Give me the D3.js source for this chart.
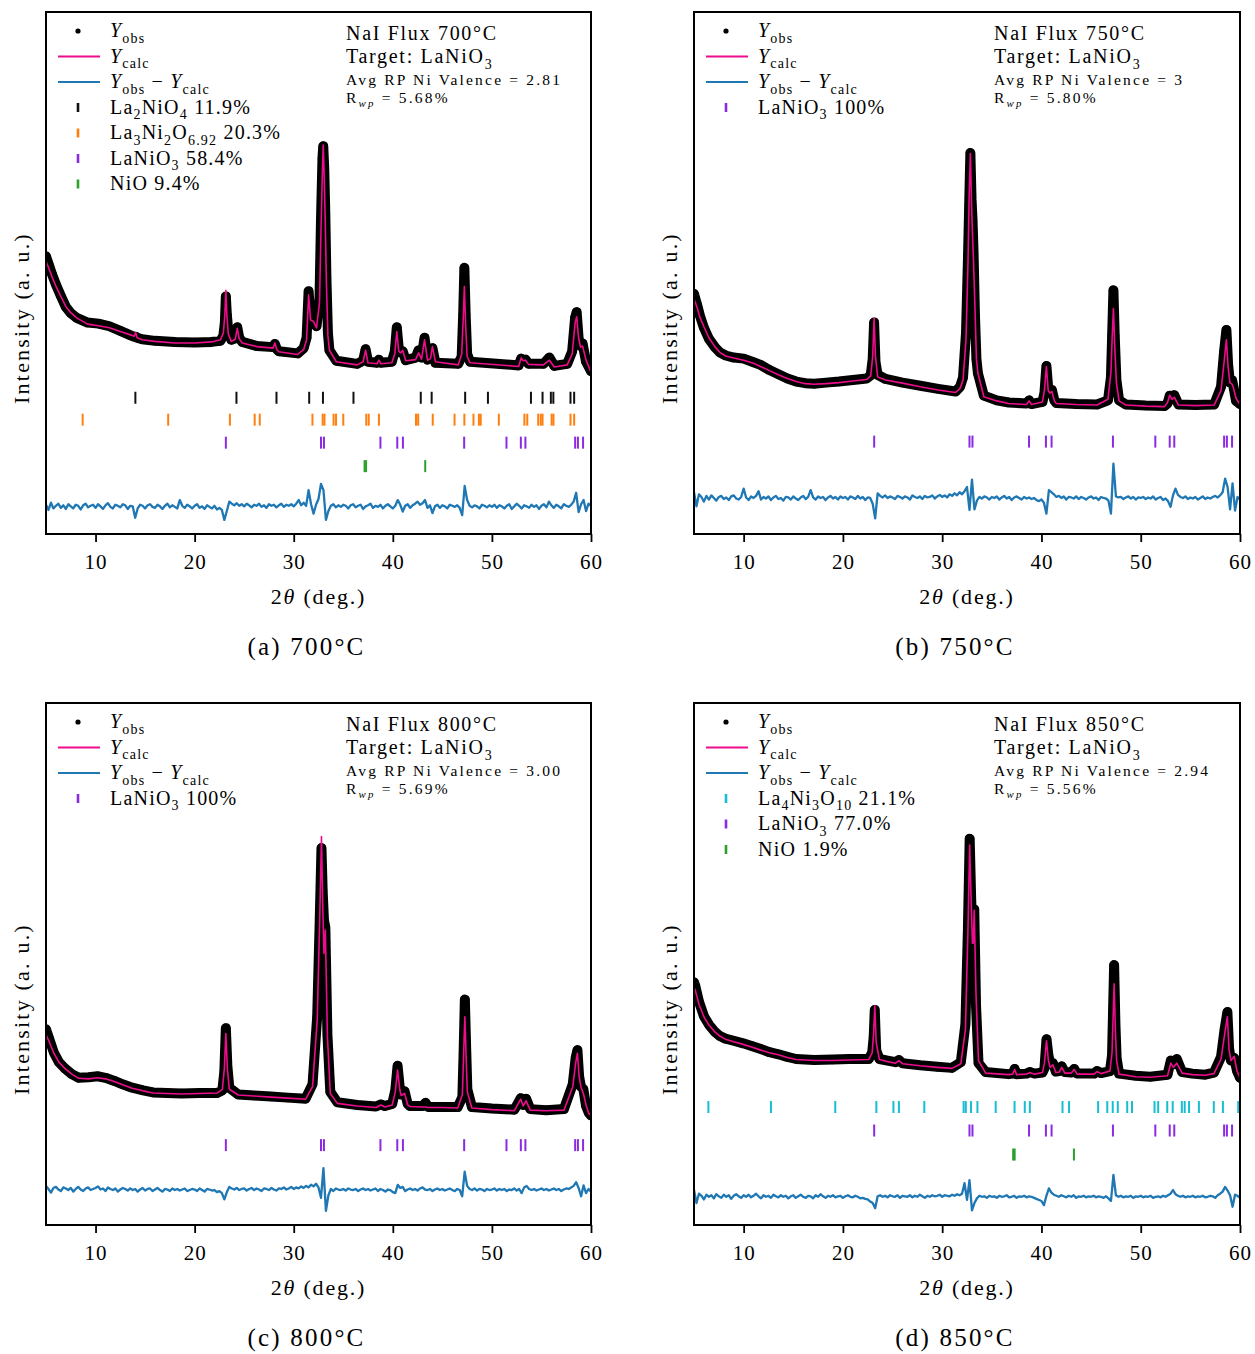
<!DOCTYPE html>
<html>
<head>
<meta charset="utf-8">
<script src="https://cdn.jsdelivr.net/npm/d3@7"></script>
<style>
  body { margin: 0; background: #fff; }
  svg { font-family: "Liberation Serif", "DejaVu Serif", serif; }
</style>
</head>
<body>
<div id="chart"></div>
<script>
// axis setup shared by all four panels
const X_DOMAIN = [5, 60];
const X_TICKS = [10, 20, 30, 40, 50, 60];
const Y_DOMAIN = [0, 100];

// difference curves are sampled on the instrument grid
const DIFF_START = 5;
const DIFF_STEP = 0.25;

// [2theta, Ycalc, Yobs]  (a.u.)
const patternA = [
  [5.0, 52.3, 53.2], [5.3, 50.8, 51.5], [5.6, 49.3, 49.8], [6.0, 47.5, 47.8], [6.5, 45.5, 45.6],
  [7.0, 43.6, 43.5], [7.5, 42.4, 42.3], [8.1, 41.4, 41.4], [9.2, 40.2, 40.5], [10.3, 39.9, 40.3],
  [11.4, 39.5, 39.8], [12.5, 38.8, 38.9], [13.6, 38.1, 38.0], [13.9, 37.9, 37.8], [14.05, 38.6, 37.8],
  [14.2, 37.6, 37.6], [14.7, 37.2, 37.3], [16.0, 36.9, 37.0], [18.0, 36.6, 36.8], [20.0, 36.6, 36.7],
  [21.7, 36.8, 36.8], [22.6, 37.2, 37.0], [22.9, 38.5, 38.0], [23.05, 42.0, 40.5], [23.15, 46.7, 45.5],
  [23.25, 42.0, 42.0], [23.4, 38.3, 38.8], [23.7, 36.9, 37.2], [24.1, 37.3, 37.5], [24.3, 39.4, 39.6],
  [24.5, 37.4, 37.6], [24.8, 36.6, 36.8], [26.3, 35.9, 36.0], [27.9, 35.6, 35.8], [28.1, 36.6, 36.4],
  [28.3, 35.3, 35.4], [28.5, 34.9, 35.0], [30.4, 34.4, 34.6], [31.0, 35.3, 35.6], [31.3, 37.2, 37.6],
  [31.5, 45.8, 46.5], [31.7, 41.0, 41.2], [32.0, 40.7, 40.5], [32.3, 39.5, 39.8], [32.6, 44.3, 45.0],
  [32.75, 58.0, 60.0], [32.9, 70.0, 72.0], [32.98, 74.5, 74.3], [33.08, 68.0, 70.0], [33.18, 60.0, 62.0],
  [33.3, 48.0, 49.0], [33.45, 38.0, 38.5], [33.6, 35.2, 35.2], [34.3, 33.0, 33.2], [36.4, 32.4, 32.6],
  [37.0, 33.0, 33.2], [37.25, 35.2, 35.4], [37.5, 32.8, 33.0], [38.4, 32.6, 32.8], [38.6, 33.3, 33.4],
  [38.8, 32.6, 32.8], [39.9, 32.8, 33.0], [40.2, 34.5, 35.0], [40.4, 38.8, 39.6], [40.6, 35.0, 35.5],
  [40.8, 34.7, 34.8], [41.0, 35.2, 35.0], [41.3, 33.2, 33.3], [42.3, 33.4, 33.8], [42.6, 34.7, 35.2],
  [42.9, 33.5, 33.8], [43.2, 37.2, 37.6], [43.5, 33.3, 33.4], [43.8, 33.6, 33.8], [44.0, 35.9, 35.6],
  [44.3, 33.0, 32.8], [46.6, 32.4, 32.6], [46.95, 34.5, 34.0], [47.1, 41.0, 42.0], [47.22, 47.4, 51.0],
  [47.35, 40.0, 42.0], [47.5, 34.0, 34.5], [47.8, 32.8, 33.0], [52.7, 32.1, 32.3], [52.95, 33.7, 33.6],
  [53.15, 33.2, 33.2], [53.4, 33.3, 33.4], [53.7, 32.5, 32.6], [55.2, 32.4, 32.6], [55.8, 33.3, 33.8],
  [56.3, 32.0, 32.2], [57.6, 32.4, 32.6], [58.1, 34.5, 35.0], [58.4, 40.5, 41.5], [58.55, 41.6, 42.5],
  [58.75, 37.5, 37.5], [58.95, 35.8, 36.0], [59.15, 36.0, 36.5], [59.5, 33.3, 33.0], [60.0, 31.0, 31.2]
];

const patternB = [
  [5.0, 45.0, 46.0], [5.3, 43.5, 44.0], [5.6, 41.5, 41.8], [6.0, 39.7, 39.5], [6.5, 37.6, 37.4],
  [7.1, 35.9, 35.8], [7.6, 34.8, 34.8], [8.2, 34.1, 34.2], [9.0, 33.7, 33.8], [10.0, 33.3, 33.6],
  [11.0, 32.7, 32.9], [11.7, 32.1, 32.4], [12.6, 31.3, 31.4], [13.5, 30.5, 30.6], [14.4, 29.8, 29.8],
  [15.3, 29.2, 29.2], [16.2, 28.8, 28.9], [17.1, 28.7, 28.8], [18.3, 28.8, 29.0], [19.6, 29.0, 29.2],
  [21.0, 29.3, 29.5], [22.4, 29.6, 29.8], [22.8, 30.3, 30.4], [23.0, 34.0, 33.5], [23.14, 41.3, 40.5],
  [23.28, 34.0, 33.0], [23.5, 30.1, 30.5], [24.3, 29.5, 29.7], [26.0, 28.9, 29.0], [27.8, 28.2, 28.4],
  [29.6, 27.6, 27.8], [31.35, 27.1, 27.3], [31.8, 27.9, 28.2], [32.1, 29.5, 30.0], [32.4, 37.2, 38.5],
  [32.6, 52.0, 53.0], [32.72, 65.0, 63.0], [32.84, 72.9, 73.0], [32.96, 63.0, 64.0], [33.06, 57.0, 60.0],
  [33.16, 52.0, 54.0], [33.3, 43.5, 42.0], [33.45, 33.5, 33.5], [33.6, 30.8, 30.8], [34.2, 26.3, 26.5],
  [35.5, 25.5, 25.6], [36.7, 25.0, 25.2], [38.5, 24.8, 25.0], [38.76, 25.5, 25.6], [39.0, 24.8, 24.9],
  [40.1, 25.3, 25.3], [40.3, 27.5, 27.0], [40.5, 32.1, 32.2], [40.68, 27.5, 28.0], [40.85, 27.0, 27.5],
  [41.05, 27.3, 27.6], [41.3, 25.5, 25.6], [41.5, 25.0, 25.1], [43.5, 24.8, 24.9], [45.6, 24.7, 24.8],
  [46.7, 25.8, 25.6], [47.0, 31.0, 30.0], [47.12, 37.5, 38.0], [47.25, 43.2, 46.7], [47.38, 36.0, 38.0],
  [47.55, 29.0, 29.5], [47.82, 25.5, 25.6], [48.5, 24.7, 24.8], [50.5, 24.5, 24.6], [52.4, 24.4, 24.5],
  [52.7, 25.2, 25.0], [52.92, 26.6, 26.5], [53.15, 25.8, 25.8], [53.38, 26.2, 26.6], [53.8, 24.7, 24.8],
  [55.5, 24.6, 24.7], [57.4, 24.7, 24.8], [58.09, 27.5, 28.2], [58.4, 33.0, 35.0], [58.63, 37.2, 39.1],
  [58.8, 32.0, 32.5], [58.98, 29.0, 29.0], [59.2, 28.7, 29.5], [59.34, 28.0, 28.2], [59.6, 26.0, 25.5],
  [60.0, 24.8, 24.9]
];

const patternC = [
  [5.0, 36.5, 37.5], [5.3, 35.2, 35.8], [5.8, 32.9, 33.0], [6.3, 31.2, 31.2], [6.9, 30.0, 30.0],
  [7.6, 28.9, 28.9], [8.3, 28.1, 28.2], [9.3, 28.0, 28.3], [10.2, 28.2, 28.5], [11.0, 28.0, 28.2],
  [11.9, 27.5, 27.6], [12.8, 26.8, 26.9], [13.7, 26.2, 26.3], [14.8, 25.7, 25.8], [15.8, 25.3, 25.4],
  [17.2, 25.2, 25.3], [18.7, 25.1, 25.2], [20.5, 25.2, 25.3], [22.3, 25.3, 25.3], [22.8, 26.0, 25.8],
  [23.0, 30.0, 29.5], [23.15, 36.7, 37.7], [23.3, 30.0, 30.5], [23.5, 26.0, 26.3], [24.4, 24.9, 25.0],
  [26.0, 24.7, 24.8], [27.7, 24.5, 24.6], [29.4, 24.3, 24.4], [31.2, 24.1, 24.2], [31.9, 26.5, 27.0],
  [32.37, 39.3, 40.0], [32.62, 58.4, 58.0], [32.8, 74.4, 72.2], [32.92, 62.0, 64.0], [33.05, 52.0, 58.4],
  [33.19, 56.5, 57.0], [33.4, 36.1, 36.5], [33.69, 25.2, 25.5], [34.4, 23.3, 23.5], [36.4, 22.8, 23.0],
  [38.3, 22.5, 22.7], [38.8, 23.0, 23.1], [39.2, 22.6, 22.8], [39.94, 23.0, 23.2], [40.25, 25.5, 25.8],
  [40.48, 29.7, 30.5], [40.7, 26.0, 26.3], [40.84, 24.8, 25.0], [41.19, 25.2, 25.6], [41.5, 23.0, 23.2],
  [41.73, 22.7, 22.8], [43.0, 22.6, 22.8], [43.3, 22.6, 23.4], [43.6, 22.5, 22.6], [45.0, 22.5, 22.6],
  [46.55, 22.4, 22.6], [47.02, 25.0, 24.5], [47.15, 33.0, 33.5], [47.27, 39.9, 43.2], [47.4, 32.0, 34.0],
  [47.52, 25.5, 26.0], [47.98, 22.4, 22.6], [50.0, 22.1, 22.3], [52.27, 21.9, 22.1], [52.91, 24.1, 24.3],
  [53.16, 22.8, 23.0], [53.45, 23.8, 24.2], [53.87, 22.0, 22.2], [55.5, 21.9, 22.0], [57.27, 22.0, 22.2],
  [58.16, 26.5, 27.0], [58.45, 31.0, 32.0], [58.63, 32.9, 33.5], [58.8, 28.5, 28.5], [58.98, 26.5, 26.5],
  [59.23, 25.2, 26.0], [59.5, 23.0, 22.8], [59.77, 21.4, 21.5], [60.0, 21.0, 21.0]
];

const patternD = [
  [5.0, 45.5, 46.5], [5.13, 45.0, 45.8], [5.5, 42.3, 42.8], [6.0, 39.9, 40.0], [6.5, 38.3, 38.4],
  [7.1, 37.0, 37.0], [7.6, 36.2, 36.2], [8.16, 35.6, 35.7], [9.0, 35.1, 35.3], [9.95, 34.6, 34.8],
  [10.8, 34.1, 34.3], [11.73, 33.5, 33.7], [12.6, 33.0, 33.1], [13.5, 32.6, 32.7], [14.4, 32.1, 32.2],
  [15.3, 31.7, 31.8], [17.1, 31.5, 31.6], [19.0, 31.5, 31.7], [20.65, 31.6, 31.8], [22.6, 31.7, 31.8],
  [22.95, 33.0, 33.0], [23.1, 37.0, 36.0], [23.21, 42.0, 41.2], [23.35, 35.0, 33.5], [23.68, 31.7, 31.8],
  [24.5, 31.3, 31.5], [25.3, 31.0, 31.2], [25.64, 31.5, 31.6], [26.0, 30.9, 31.0], [27.78, 30.5, 30.6],
  [29.5, 30.2, 30.3], [30.99, 30.0, 30.1], [31.88, 30.9, 31.2], [32.34, 37.4, 38.5], [32.59, 56.0, 56.5],
  [32.77, 72.8, 74.0], [32.92, 62.0, 62.5], [33.05, 54.0, 55.0], [33.13, 54.0, 56.0], [33.23, 60.3, 60.5],
  [33.41, 44.0, 42.0], [33.66, 31.5, 31.0], [34.38, 29.1, 29.3], [36.69, 28.8, 28.9], [37.1, 28.9, 29.0],
  [37.3, 29.8, 29.9], [37.5, 28.8, 28.9], [38.5, 28.9, 29.0], [38.83, 29.2, 29.3], [39.3, 28.9, 29.0],
  [40.1, 29.2, 29.2], [40.3, 31.0, 30.0], [40.51, 35.3, 35.6], [40.7, 31.5, 32.5], [40.87, 30.2, 31.0],
  [41.15, 30.7, 31.0], [41.45, 29.2, 29.4], [41.8, 29.3, 29.5], [42.04, 30.2, 30.4], [42.35, 29.1, 29.3],
  [43.0, 29.1, 29.2], [43.3, 29.8, 29.9], [43.6, 28.9, 29.0], [45.3, 28.9, 29.0], [45.6, 29.4, 29.5],
  [46.0, 29.0, 29.1], [46.9, 29.5, 29.5], [47.11, 33.0, 32.5], [47.32, 46.2, 49.8], [47.45, 37.0, 38.5],
  [47.57, 31.5, 32.0], [47.82, 28.9, 29.0], [49.5, 28.4, 28.6], [50.96, 28.3, 28.4], [52.7, 28.6, 28.8],
  [53.03, 31.0, 31.5], [53.3, 30.2, 30.8], [53.63, 31.0, 31.8], [54.17, 29.1, 29.3], [55.2, 28.8, 29.0],
  [56.5, 28.7, 28.8], [57.38, 29.0, 29.2], [58.09, 31.8, 32.2], [58.45, 36.5, 37.5], [58.73, 39.9, 40.8],
  [58.9, 33.5, 33.8], [59.09, 31.5, 31.5], [59.41, 32.3, 32.0], [59.7, 29.5, 29.5], [60.0, 28.1, 28.2]
];

// Yobs - Ycalc, one value per grid step from 5 to 60 deg
const diffA = [
  0.4,-0.6,0.8,-0.3,0.2,0.6,-0.2,0.3,-0.4,0.5,0.1,-0.3,0.4,0.2,-0.5,0.3,0.6,-0.1,0.2,0.4,
  -0.2,0.5,0.1,-0.4,0.3,0.7,0.0,-0.3,0.4,0.2,-0.1,0.5,0.3,-0.4,0.2,0.1,-2.1,-0.3,0.4,0.2,
  -0.3,0.3,0.5,0.0,-0.2,0.4,0.1,-0.4,0.2,0.6,-0.1,0.3,0.0,-0.3,1.3,0.2,-0.2,0.4,0.1,-0.3,
  0.2,0.5,-0.2,0.1,-0.4,0.3,0.0,-0.3,0.2,-0.5,-0.2,-0.6,-2.5,-0.8,1.0,0.6,0.3,0.7,0.2,0.5,
  0.1,0.6,0.3,-0.1,0.4,0.2,0.6,0.0,0.3,-0.2,0.5,0.2,0.4,-0.1,0.3,0.6,0.0,0.4,0.2,0.5,
  0.1,0.6,1.3,0.3,0.8,0.2,3.2,0.5,-1.3,0.4,1.5,4.4,3.2,-2.5,-0.8,0.2,0.5,-0.1,0.3,0.0,
  0.4,0.2,-0.3,0.3,0.5,-0.1,0.2,0.4,-0.4,0.1,0.3,0.6,-0.2,0.2,0.0,0.4,-0.3,0.2,0.5,0.1,
  -0.3,0.2,1.3,0.4,-0.9,0.2,0.5,-0.2,0.3,0.6,1.0,0.4,0.7,1.3,-0.2,0.3,-1.2,0.1,0.4,-0.2,
  0.3,0.1,-0.3,0.4,0.2,0.0,0.3,-0.2,-1.6,4.0,1.3,0.2,-0.1,0.3,0.1,-0.3,0.4,0.2,-0.1,0.3,
  0.0,0.4,-0.2,0.3,0.1,-0.3,0.2,0.5,-0.4,0.1,0.6,0.2,-0.3,0.3,0.1,-0.2,0.4,0.0,0.3,-0.4,
  0.2,0.5,-0.1,1.0,0.3,-0.2,0.4,0.1,-0.3,0.5,0.2,0.0,0.4,1.0,2.7,-1.0,0.5,1.3,-0.8,0.6,
  0.2
];

const diffB = [
  1.2,-1.5,0.8,0.3,-0.6,0.5,-0.2,0.6,0.1,-0.4,0.3,0.5,-0.1,0.2,-0.3,0.4,0.6,0.0,-0.2,0.3,
  1.9,0.2,-0.3,0.4,0.1,0.5,1.4,-0.2,0.3,0.0,0.4,-0.3,0.2,0.5,-0.1,0.1,-0.4,0.3,0.2,-0.2,
  0.4,0.0,-0.3,0.2,0.5,-0.1,0.3,1.6,0.2,-0.2,0.4,0.1,0.3,-0.3,0.2,0.5,0.0,0.3,-0.2,0.4,
  0.1,0.3,-0.2,0.4,0.2,-0.1,0.5,0.0,0.3,-0.3,0.2,0.1,-1.0,-3.8,1.0,0.5,0.2,0.6,0.1,0.4,
  0.2,-0.1,0.5,0.3,0.0,0.4,0.2,-0.2,0.6,0.3,0.1,0.4,-0.1,0.5,0.2,0.3,0.6,0.0,0.4,0.7,
  0.3,0.6,0.2,0.8,0.5,1.0,0.6,1.2,0.8,1.4,2.2,-2.2,3.6,-2.1,-0.4,0.3,0.0,0.4,0.2,-0.2,
  0.3,0.1,0.4,-0.2,0.2,0.5,0.0,0.3,-0.3,0.2,0.4,0.1,-0.2,0.3,0.0,0.2,-0.1,0.1,-0.3,-0.5,
  -0.2,-0.8,-2.9,1.6,1.2,0.8,0.3,0.5,0.1,0.4,-0.2,0.3,0.2,0.0,0.4,-0.1,0.3,0.1,-0.2,0.2,
  0.4,0.0,0.2,-0.3,0.3,0.1,0.0,-0.4,-2.9,6.7,0.4,0.2,0.3,-0.1,0.2,0.4,0.0,0.3,-0.2,0.2,
  0.1,0.3,-0.1,0.2,0.0,0.4,-0.2,0.1,0.3,-0.3,0.0,-0.5,-1.6,0.6,1.9,0.7,0.3,0.1,0.4,-0.1,
  0.2,0.0,0.3,-0.2,0.1,0.4,-0.1,0.2,0.0,0.3,0.5,0.2,0.6,1.2,3.8,2.2,-2.1,2.9,-2.3,0.3,
  -0.2
];

const diffC = [
  0.8,0.2,-0.5,0.4,0.6,0.1,-0.2,0.5,0.3,0.0,0.4,-0.3,0.2,0.6,0.1,-0.2,0.3,0.5,0.0,0.2,
  0.4,0.7,0.1,0.3,-0.2,0.5,0.2,0.0,0.3,-0.3,0.1,0.4,0.2,-0.1,0.3,0.0,0.2,-0.3,0.1,0.4,
  -0.1,0.2,0.3,-0.2,0.1,0.4,0.0,-0.3,0.2,0.1,-0.2,0.3,0.0,0.2,-0.1,0.1,0.3,-0.2,0.0,0.2,
  0.1,-0.2,0.3,0.0,-0.3,0.2,0.1,-0.1,0.0,-0.4,-0.2,-0.6,-1.8,-0.4,0.6,0.3,0.1,0.4,0.0,0.2,
  0.3,-0.1,0.2,0.4,0.0,0.3,0.1,-0.2,0.3,0.2,0.0,0.4,0.1,-0.1,0.3,0.2,0.5,0.1,0.3,0.6,
  0.2,0.5,0.3,0.7,0.4,0.8,0.5,1.0,0.7,1.2,0.5,-1.5,4.2,-4.0,-1.0,0.2,-0.2,0.3,0.1,0.0,
  0.2,-0.1,0.3,0.1,0.0,0.2,-0.2,0.1,0.3,0.0,0.2,-0.1,0.1,0.3,-0.2,0.2,0.0,-0.3,0.1,0.0,
  -0.4,-0.6,1.0,0.4,0.6,-0.2,0.1,0.3,0.0,0.2,-0.1,0.3,0.5,0.1,0.0,0.2,-0.2,0.1,0.3,0.0,
  0.2,-0.1,0.1,0.3,0.0,-0.2,0.2,0.0,-1.2,3.5,0.8,0.2,0.0,0.3,-0.1,0.2,0.1,-0.2,0.2,0.0,
  0.1,0.3,-0.1,0.2,0.0,0.2,-0.2,0.1,0.0,0.3,-0.1,0.2,-0.6,0.5,0.8,0.2,0.0,0.2,-0.1,0.1,
  0.3,0.0,0.2,-0.1,0.1,0.3,0.0,0.2,-0.2,0.1,0.3,0.2,0.5,0.8,1.5,0.4,-1.2,0.9,-0.6,0.2,
  -0.3
];

const diffD = [
  1.3,-1.2,0.6,0.2,-0.5,0.4,0.0,0.3,-0.3,0.5,0.1,-0.2,0.4,0.0,0.3,-0.4,0.2,0.5,0.1,-0.2,
  0.3,0.0,0.4,-0.1,0.2,0.6,0.1,-0.3,0.3,0.0,0.2,-0.2,0.4,0.1,-0.1,0.3,0.0,0.2,-0.3,0.1,
  0.3,-0.2,0.1,0.4,0.0,-0.2,0.2,0.1,-0.3,0.3,0.0,0.5,0.1,-0.2,0.2,0.0,0.3,-0.1,0.1,0.2,
  -0.2,0.1,0.3,0.0,-0.1,0.2,0.0,-0.3,-0.2,-0.4,-0.5,-0.9,-1.2,-2.2,0.1,0.3,0.0,0.2,-0.1,0.3,
  0.1,0.0,0.3,-0.2,0.2,0.1,0.0,0.3,-0.1,0.2,0.0,0.4,0.1,-0.2,0.2,0.0,0.3,0.1,0.2,0.4,
  0.0,0.3,0.2,0.1,0.4,0.2,0.5,0.3,0.6,2.6,-0.6,3.2,-2.6,-1.2,-0.3,0.2,0.0,0.1,-0.2,0.2,
  0.0,0.1,-0.2,0.2,0.0,0.1,0.3,-0.1,0.0,0.2,-0.2,0.1,0.0,0.2,-0.1,0.1,0.0,-0.2,-0.4,-0.6,
  -0.8,-1.6,0.2,1.6,0.8,0.4,0.2,0.0,0.3,0.1,-0.1,0.2,0.0,0.3,-0.2,0.1,0.0,0.2,-0.1,0.1,
  0.0,0.2,-0.1,0.1,0.0,-0.2,0.1,-0.3,-0.8,4.2,0.3,0.0,0.2,-0.1,0.1,0.0,0.2,-0.2,0.1,0.0,
  0.2,-0.1,0.1,0.0,0.2,-0.2,0.0,0.1,-0.1,0.2,0.0,0.3,0.6,1.3,0.5,0.2,0.0,0.2,-0.1,0.1,
  0.0,0.2,-0.1,0.1,0.0,0.2,-0.1,0.0,0.2,0.1,-0.2,0.3,0.6,1.0,1.9,1.2,0.3,-1.9,0.4,0.2,
  -0.2
];

// reflection positions (2theta) for each phase
const ticksLa2NiO4 = [14.02, 24.22, 28.26, 31.56, 32.95, 36.03, 42.82, 43.92, 47.3, 49.6,
  53.94, 55.11, 55.95, 56.2, 57.93, 58.3];
const ticksLa3Ni2O7 = [8.7, 17.33, 23.56, 26.06, 26.57, 31.89, 32.92, 33.1, 34.02, 34.27, 35.0,
  37.32, 37.57, 38.6, 42.34, 42.56, 44.03, 46.23, 47.22, 48.14, 48.69, 48.87, 50.7, 53.28,
  53.57, 54.67, 54.93, 55.11, 56.03, 56.21, 57.93, 58.3];
const ticksLaNiO3 = [23.15, 32.75, 33.05, 38.75, 40.45, 41.02, 47.2, 51.47, 52.92, 53.38,
  58.4, 58.68, 59.2];
const ticksNiO = [37.15, 37.3, 43.27];
const ticksLa4Ni3O10 = [6.45, 12.75, 19.23, 23.37, 25.09, 25.64, 28.2, 32.16, 32.38, 32.9, 33.55,
  35.39, 37.29, 38.32, 38.83, 42.12, 42.78, 45.71, 46.63, 47.18, 47.69, 48.64, 49.12, 51.39,
  51.76, 52.67, 53.22, 54.14, 54.43, 54.87, 55.86, 57.36, 58.28, 59.82];

const captions = ["(a) 700°C", "(b) 750°C", "(c) 800°C", "(d) 850°C"];
const fluxLabels = ["NaI Flux 700°C", "NaI Flux 750°C", "NaI Flux 800°C", "NaI Flux 850°C"];
const valences = ["2.81", "3", "3.00", "2.94"];
const rwps = ["5.68%", "5.80%", "5.69%", "5.56%"];

const COLORS = {
  calc: "#ec0c8c",
  diff: "#1f77b4",
  La2NiO4: "#111111",
  La3Ni2O7: "#ff7f0e",
  LaNiO3: "#8a2be2",
  NiO: "#2ca02c",
  La4Ni3O10: "#17becf"
};

const panels = [
  { box: [46, 591, 12, 534], pattern: patternA, diff: diffA, diffOffset: 5.2,
    phases: [
      { label: "La_{2}NiO_{4} 11.9%", color: COLORS.La2NiO4, ticks: ticksLa2NiO4, level: 26.1 },
      { label: "La_{3}Ni_{2}O_{6.92} 20.3%", color: COLORS.La3Ni2O7, ticks: ticksLa3Ni2O7, level: 21.9 },
      { label: "LaNiO_{3} 58.4%", color: COLORS.LaNiO3, ticks: ticksLaNiO3, level: 17.5 },
      { label: "NiO 9.4%", color: COLORS.NiO, ticks: ticksNiO, level: 13.0 }
    ] },
  { box: [694, 1240, 12, 534], pattern: patternB, diff: diffB, diffOffset: 6.8,
    phases: [
      { label: "LaNiO_{3} 100%", color: COLORS.LaNiO3, ticks: ticksLaNiO3, level: 17.7 }
    ] },
  { box: [46, 591, 703, 1225], pattern: patternC, diff: diffC, diffOffset: 6.7,
    phases: [
      { label: "LaNiO_{3} 100%", color: COLORS.LaNiO3, ticks: ticksLaNiO3, level: 15.3 }
    ] },
  { box: [694, 1240, 703, 1225], pattern: patternD, diff: diffD, diffOffset: 5.4,
    phases: [
      { label: "La_{4}Ni_{3}O_{10} 21.1%", color: COLORS.La4Ni3O10, ticks: ticksLa4Ni3O10, level: 22.6 },
      { label: "LaNiO_{3} 77.0%", color: COLORS.LaNiO3, ticks: ticksLaNiO3, level: 18.1 },
      { label: "NiO 1.9%", color: COLORS.NiO, ticks: ticksNiO, level: 13.5 }
    ] }
];

const W = 1255, H = 1354;
const svg = d3.select("#chart").append("svg")
    .attr("width", W)
    .attr("height", H)
    .style("display", "block");

svg.append("rect").attr("width", W).attr("height", H).attr("fill", "#fff");

// small markup: _{..} subscript, _[..] italic subscript, *..* italic
function rich(sel, str, size) {
  const re = /_\{([^}]*)\}|_\[([^\]]*)\]|\*([^*]*)\*|([^_*]+)/g;
  const shift = size * 0.28;
  let m, low = false;
  while ((m = re.exec(str))) {
    const t = sel.append("tspan");
    if (m[1] !== undefined || m[2] !== undefined) {
      t.text(m[1] !== undefined ? m[1] : m[2]).attr("font-size", size * 0.7);
      if (m[2] !== undefined) t.attr("font-style", "italic");
      if (!low) { t.attr("dy", shift); low = true; }
    } else {
      t.text(m[3] !== undefined ? m[3] : m[4]);
      if (m[3] !== undefined) t.attr("font-style", "italic");
      if (low) { t.attr("dy", -shift); low = false; }
    }
  }
  return sel;
}

function addText(g, x, y, str, size, spacing, anchor) {
  const t = g.append("text")
      .attr("x", x)
      .attr("y", y)
      .attr("font-size", size)
      .attr("letter-spacing", spacing)
      .attr("text-anchor", anchor || "start")
      .attr("fill", "#000");
  return rich(t, str, size);
}

panels.forEach((p, k) => {
  const [left, right, top, bottom] = p.box;
  const x = d3.scaleLinear().domain(X_DOMAIN).range([left, right]);
  const y = d3.scaleLinear().domain(Y_DOMAIN).range([bottom, top]);
  const g = svg.append("g");

  const clipId = "clip" + k;
  g.append("clipPath").attr("id", clipId)
    .append("rect")
      .attr("x", left).attr("y", top)
      .attr("width", right - left).attr("height", bottom - top);

  const plot = g.append("g").attr("clip-path", `url(#${clipId})`);

  // observed: thick band of points
  const obsLine = d3.line().x(d => x(d[0])).y(d => y(d[2]));
  plot.append("path")
      .datum(p.pattern)
      .attr("d", obsLine)
      .attr("fill", "none")
      .attr("stroke", "#000")
      .attr("stroke-width", 10)
      .attr("stroke-linejoin", "round")
      .attr("stroke-linecap", "round");
  plot.append("g")
    .selectAll("circle")
    .data(p.pattern)
    .enter().append("circle")
      .attr("cx", d => x(d[0]))
      .attr("cy", d => y(d[2]))
      .attr("r", 4.6)
      .attr("fill", "#000");

  // calculated
  const calcLine = d3.line().x(d => x(d[0])).y(d => y(d[1]));
  plot.append("path")
      .datum(p.pattern)
      .attr("d", calcLine)
      .attr("fill", "none")
      .attr("stroke", COLORS.calc)
      .attr("stroke-width", 1.6)
      .attr("stroke-linejoin", "round");

  // difference
  const diffLine = d3.line()
      .x((d, i) => x(DIFF_START + i * DIFF_STEP))
      .y(d => y(p.diffOffset + d));
  plot.append("path")
      .datum(p.diff)
      .attr("d", diffLine)
      .attr("fill", "none")
      .attr("stroke", COLORS.diff)
      .attr("stroke-width", 2.3)
      .attr("stroke-linejoin", "round");

  // reflection ticks
  p.phases.forEach(ph => {
    plot.append("g")
      .selectAll("line")
      .data(ph.ticks)
      .enter().append("line")
        .attr("x1", d => x(d)).attr("x2", d => x(d))
        .attr("y1", y(ph.level) - 6).attr("y2", y(ph.level) + 6)
        .attr("stroke", ph.color)
        .attr("stroke-width", 2);
  });

  // frame
  g.append("rect")
      .attr("x", left).attr("y", top)
      .attr("width", right - left).attr("height", bottom - top)
      .attr("fill", "none")
      .attr("stroke", "#000")
      .attr("stroke-width", 2);

  // x axis
  const ax = g.append("g")
      .attr("transform", `translate(0,${bottom})`)
      .call(d3.axisBottom(x).tickValues(X_TICKS).tickSize(8).tickPadding(12));
  ax.select(".domain").remove();
  ax.selectAll(".tick line").attr("stroke", "#000").attr("stroke-width", 1.8);
  ax.selectAll(".tick text")
      .attr("font-family", "Liberation Serif, serif")
      .attr("font-size", 21)
      .attr("letter-spacing", 1)
      .attr("fill", "#000");

  const cx = (left + right) / 2;
  addText(g, cx, bottom + 70, "2*θ* (deg.)", 22, 1.8, "middle");
  addText(g, (left + right) / 2 - 12, bottom + 121, captions[k], 25, 2.2, "middle");

  g.append("text")
      .attr("transform", `translate(${left - 17},${top + 306}) rotate(-90)`)
      .attr("text-anchor", "middle")
      .attr("font-size", 22)
      .attr("letter-spacing", 2.2)
      .text("Intensity (a. u.)");

  // legend
  const lx = left + 32, tx = left + 64;
  const entries = [
    { kind: "dot", label: "*Y*_{obs}" },
    { kind: "line", color: COLORS.calc, label: "*Y*_{calc}" },
    { kind: "line", color: COLORS.diff, label: "*Y*_{obs} − *Y*_{calc}" }
  ].concat(p.phases.map(ph => ({ kind: "tick", color: ph.color, label: ph.label })));

  entries.forEach((e, i) => {
    const cy = top + 19 + i * 25.5;
    if (e.kind === "dot") {
      g.append("circle").attr("cx", lx).attr("cy", cy).attr("r", 2.6).attr("fill", "#000");
    } else if (e.kind === "line") {
      g.append("line")
          .attr("x1", lx - 20).attr("x2", lx + 22)
          .attr("y1", cy).attr("y2", cy)
          .attr("stroke", e.color).attr("stroke-width", 1.8);
    } else {
      g.append("line")
          .attr("x1", lx).attr("x2", lx)
          .attr("y1", cy - 4.5).attr("y2", cy + 4.5)
          .attr("stroke", e.color).attr("stroke-width", 2.6);
    }
    addText(g, tx, cy + 6, e.label, 20, 1.2);
  });

  // annotation block
  const ax0 = left + 300;
  addText(g, ax0, top + 28, fluxLabels[k], 20, 1.7);
  addText(g, ax0, top + 51, "Target: LaNiO_{3}", 20, 1.7);
  addText(g, ax0, top + 73, "Avg RP Ni Valence = " + valences[k], 15.5, 2.2);
  addText(g, ax0, top + 91, "R_[wp] = " + rwps[k], 15.5, 2.2);
});
</script>
</body>
</html>
